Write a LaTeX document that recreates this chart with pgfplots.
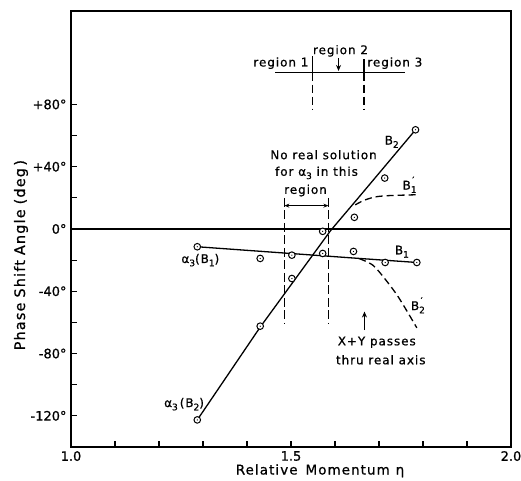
\documentclass[border=0pt]{standalone}
\usepackage{fontspec}
\setmainfont{DejaVu Sans}[FakeBold=0.8]
\newfontfamily\lsp{DejaVu Sans}[LetterSpace=8.0, FakeBold=0.8]
\usepackage{pgfplots}
\pgfplotsset{compat=1.18}
\usetikzlibrary{arrows.meta}
\pgfdeclareplotmark{odot}{%
  \pgfpathcircle{\pgfpointorigin}{\pgfplotmarksize}%
  \pgfsetfillcolor{white}\pgfusepathqfillstroke
  \pgfpathcircle{\pgfpointorigin}{0.65pt}%
  \pgfsetfillcolor{black}\pgfusepathqfill}
\newcommand{\sub}[1]{\raisebox{-0.5ex}{\fontsize{9}{10}\selectfont #1}}
\newcommand{\Bs}[1]{B\sub{#1}}
\newcommand{\Bp}[1]{B\rlap{\sub{#1}}\raisebox{0.95ex}{\fontsize{9}{10}\selectfont\,′}}
\begin{document}
\begin{tikzpicture}
\useasboundingbox (-71bp,-34bp) rectangle (450bp,447bp);
\begin{axis}[at={(0,0)}, anchor=south west,
  width=440bp, height=436bp, scale only axis,
  xmin=1, xmax=2, ymin=-140, ymax=140,
  axis line style={line width=1.6bp},
  xtick={1,1.5,2}, xticklabels={1.0,1.5,2.0},
  minor xtick={1.1,1.2,1.3,1.4,1.6,1.7,1.8,1.9},
  ytick={-120,-80,-40,0,40,80},
  yticklabels={-120°,-80°,-40°,0°,+40°,+80°},
  minor ytick={-100,-60,-20,20,60},
  xtick pos=bottom, ytick pos=left, tick align=inside,
  major tick length=6bp, minor tick length=6bp,
  tick style={line width=1.1bp, black},
  ticklabel style={font=\fontsize{13}{15}\selectfont},
  xticklabel style={inner sep=1bp, yshift=-3bp},
  yticklabel style={xshift=-1bp},
  xlabel={\lsp\fontsize{13.5}{16}\selectfont Relative\hspace{8bp}Momentum\hspace{6bp}η},
  xlabel style={at={(axis description cs:0.566,0)}, anchor=base, yshift=-27.5bp, inner sep=0pt},
  ylabel={\lsp\fontsize{14.5}{17}\selectfont Phase\hspace{5bp}Shift\hspace{5bp}Angle\hspace{5bp}(deg\,)},
  ylabel style={at={(axis description cs:-0.1136,0.44)}, anchor=center, inner sep=0pt},
  clip=false,
]
% zero line
\addplot[line width=1.2bp] coordinates {(1,0) (2,0)};
% B2 line
\addplot[line width=1.3bp] coordinates {(1.287,-122.6) (1.43,-63) (1.59,-1) (1.65,19) (1.783,63.7)};
% B1 line
\addplot[line width=1.3bp] coordinates {(1.287,-11.4) (1.65,-18.8) (1.786,-21.5)};
% B1' dashed
\addplot[line width=1.3bp, dash pattern=on 7bp off 4bp, smooth] coordinates {(1.646,15.5) (1.665,18.3) (1.69,20.5) (1.72,21.4) (1.786,22)};
% B2' dashed
\addplot[line width=1.3bp, dash pattern=on 7bp off 4bp, smooth] coordinates {(1.655,-19) (1.685,-23) (1.71,-30.8) (1.744,-43.7) (1.786,-63.5)};
% region boundaries (no real solution)
\addplot[line width=1.1bp, dash pattern=on 9bp off 3.5bp] coordinates {(1.485,20) (1.485,-61)};
\addplot[line width=1.1bp, dash pattern=on 9bp off 3.5bp] coordinates {(1.585,20) (1.585,-61)};
% region diagram at top
\addplot[line width=1.1bp] coordinates {(1.464,100.4) (1.759,100.4)};
\addplot[line width=1.1bp] coordinates {(1.549,111) (1.549,100.4)};
\addplot[line width=1.1bp] coordinates {(1.666,109) (1.666,100.4)};
\addplot[line width=1.1bp, dash pattern=on 8bp off 4bp] coordinates {(1.549,100.4) (1.549,77)};
\addplot[line width=1.1bp, dash pattern=on 8bp off 4bp] coordinates {(1.666,100.4) (1.666,77)};
% data points
\addplot[only marks, mark=odot, mark size=3.3bp, line width=1bp] coordinates {
  (1.287,-122.6) (1.43,-62.4) (1.502,-31.8) (1.572,-1.5) (1.644,7.5) (1.713,32.7) (1.783,63.7)};
\addplot[only marks, mark=odot, mark size=3.3bp, line width=1bp] coordinates {
  (1.287,-11.4) (1.43,-18.9) (1.502,-16.8) (1.572,-15.7) (1.642,-14.4) (1.714,-21.5) (1.786,-21.5)};
% arrows
\draw[{Stealth[length=5bp,width=4bp]}-{Stealth[length=5bp,width=4bp]}, line width=0.9bp] (axis cs:1.485,15) -- (axis cs:1.585,15);
\draw[-{Stealth[length=6bp,width=5bp]}, line width=1.1bp] (axis cs:1.608,109.5) -- (axis cs:1.608,101.5);
\draw[-{Stealth[length=6bp,width=5bp]}, line width=1.1bp] (axis cs:1.667,-65) -- (axis cs:1.667,-53);
% texts
\begin{scope}[every node/.style={font=\lsp\fontsize{12}{14}\selectfont, inner sep=0pt}]
\node at (axis cs:1.477,106.5) {region 1};
\node at (axis cs:1.6125,114.4) {region 2};
\node at (axis cs:1.736,106.5) {region 3};
\node at (axis cs:1.574,47.7) {No real solution};
\node at (axis cs:1.558,36) {for α\sub{3} in this};
\node at (axis cs:1.533,24.7) {region};
\node at (axis cs:1.695,-72.7) {X+Y passes};
\node at (axis cs:1.704,-84) {thru real axis};
\node at (axis cs:1.729,56) {\Bs{2}};
\node at (axis cs:1.767,28.4) {\Bp{1}};
\node at (axis cs:1.752,-14.6) {\Bs{1}};
\node at (axis cs:1.786,-49) {\Bp{2}};
\node at (axis cs:1.294,-20) {α\sub{3}(B\sub{1})};
\node at (axis cs:1.257,-112.5) {α\sub{3}\,(B\sub{2})};
\end{scope}
\end{axis}
\end{tikzpicture}
\end{document}
